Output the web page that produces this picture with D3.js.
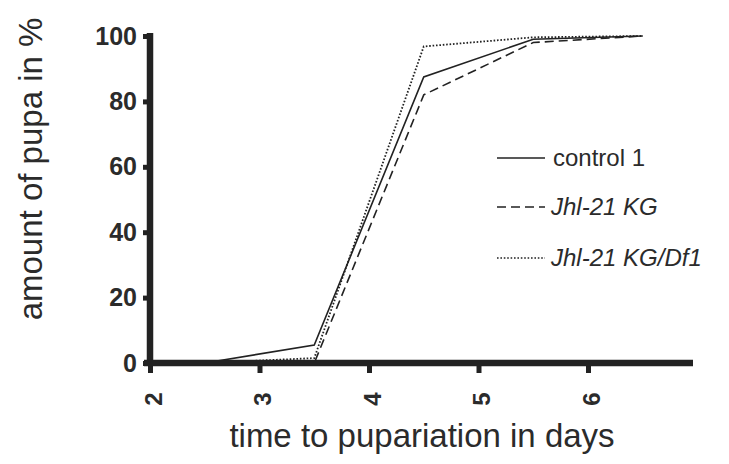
<!DOCTYPE html>
<html><head><meta charset="utf-8">
<script src="https://cdn.jsdelivr.net/npm/d3@7"></script>
<style>body{margin:0;background:#fff}svg{display:block}</style>
</head><body>
<svg id="c" width="729" height="464"></svg>
<script>
const days = [2.5, 3.5, 4.5, 5.5, 6.5];
const control1 = [0, 5.5, 87.5, 99, 100];
const jhlKG = [0, 0, 82, 98, 100];
const jhlKGDf1 = [0, 1.5, 96.8, 99.6, 100];
const xTicks = [2, 3, 4, 5, 6];
const yTicks = [0, 20, 40, 60, 80, 100];
const seriesNames = ["control 1", "Jhl-21 KG", "Jhl-21 KG/Df1"];

const series = [
  {name: seriesNames[0], values: control1, dash: null, italic: false},
  {name: seriesNames[1], values: jhlKG, dash: "9,5", italic: true},
  {name: seriesNames[2], values: jhlKGDf1, dash: "1.6,1.8", italic: true}
];

const svg = d3.select("#c");
const x = d3.scaleLinear().domain([2, 7]).range([150, 697.5]);
const y = d3.scaleLinear().domain([0, 100]).range([363, 36]);
const axisColor = "#222";
const textColor = "#2b2b2b";

// lines
const line = d3.line().x(d => x(d[0])).y(d => y(d[1]));
series.forEach(s => {
  svg.append("path")
    .datum(days.map((d, i) => [d, s.values[i]]))
    .attr("d", line)
    .attr("fill", "none")
    .attr("stroke", "#222")
    .attr("stroke-width", s.dash === "1.6,1.8" ? 1.8 : 1.6)
    .attr("stroke-dasharray", s.dash);
});

// y axis
const gy = svg.append("g").attr("transform", "translate(150,0)")
  .call(d3.axisLeft(y).tickValues(yTicks).tickFormat(d3.format("d")).tickSize(7).tickSizeOuter(0).tickPadding(6));
gy.select(".domain").remove();
gy.append("line").attr("x1", 0).attr("x2", 0).attr("y1", y(100) - 3).attr("y2", y(0) + 3)
  .attr("stroke", axisColor).attr("stroke-width", 6.5);
gy.selectAll(".tick line").attr("stroke", axisColor).attr("stroke-width", 5);
gy.selectAll(".tick text").attr("fill", textColor)
  .style("font", "bold 25px 'Liberation Sans', Arial, sans-serif");

// x axis
const gx = svg.append("g").attr("transform", "translate(0,363)")
  .call(d3.axisBottom(x).tickValues(xTicks).tickFormat(d3.format("d")).tickSize(10).tickSizeOuter(0));
gx.select(".domain").remove();
gx.append("line").attr("x1", 144).attr("x2", 693).attr("y1", 0).attr("y2", 0)
  .attr("stroke", axisColor).attr("stroke-width", 6.5);
gx.selectAll(".tick line").attr("stroke", axisColor).attr("stroke-width", 5);
gx.selectAll(".tick text")
  .attr("fill", textColor)
  .attr("transform", "translate(3,36) rotate(-90)")
  .attr("y", 0).attr("dy", "0.35em")
  .attr("text-anchor", "middle")
  .style("font", "bold 24px 'Liberation Sans', Arial, sans-serif");

// axis titles
svg.append("text")
  .attr("transform", "translate(42,169) rotate(-90)")
  .attr("text-anchor", "middle")
  .attr("fill", textColor)
  .style("font", "33px 'Liberation Sans', Arial, sans-serif")
  .text("amount of pupa in %");
svg.append("text")
  .attr("x", 422).attr("y", 447)
  .attr("text-anchor", "middle")
  .attr("fill", textColor)
  .style("font", "33px 'Liberation Sans', Arial, sans-serif")
  .text("time to pupariation in days");

// legend
const legY = [158, 207, 258];
series.forEach((s, i) => {
  const g = svg.append("g").attr("transform", `translate(497,${legY[i]})`);
  g.append("line").attr("x1", 0).attr("x2", 48).attr("y1", 0).attr("y2", 0)
    .attr("stroke", "#222").attr("stroke-width", 1.6).attr("stroke-dasharray", s.dash);
  g.append("text").attr("x", s.italic ? 54 : 56).attr("y", 0).attr("dy", "0.35em")
    .attr("fill", textColor)
    .style("font", (s.italic ? "italic " : "") + "24px 'Liberation Sans', Arial, sans-serif")
    .text(s.name);
});
</script>
</body></html>
